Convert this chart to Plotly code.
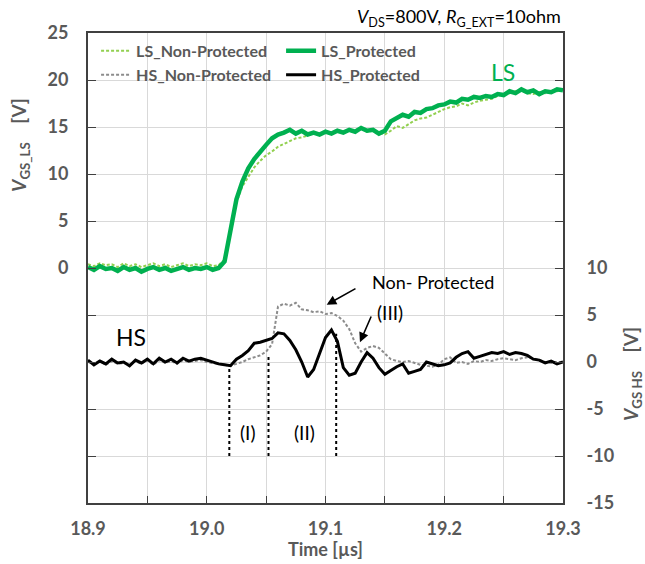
import plotly.graph_objects as go

# ---- data ----
time_us = [18.900, 18.905, 18.910, 18.915, 18.920, 18.925, 18.930, 18.935, 18.940, 18.945,
           18.950, 18.955, 18.960, 18.965, 18.970, 18.975, 18.980, 18.985, 18.990, 18.995,
           19.000, 19.005, 19.010, 19.015, 19.020, 19.025, 19.030, 19.035, 19.040, 19.045,
           19.050, 19.055, 19.060, 19.065, 19.070, 19.075, 19.080, 19.085, 19.090, 19.095,
           19.100, 19.105, 19.110, 19.115, 19.120, 19.125, 19.130, 19.135, 19.140, 19.145,
           19.150, 19.155, 19.160, 19.165, 19.170, 19.175, 19.180, 19.185, 19.190, 19.195,
           19.200, 19.205, 19.210, 19.215, 19.220, 19.225, 19.230, 19.235, 19.240, 19.245,
           19.250, 19.255, 19.260, 19.265, 19.270, 19.275, 19.280, 19.285, 19.290, 19.295,
           19.300]

ls_protected = [0.1, -0.2, 0.2, -0.1, 0.0, -0.3, 0.1, -0.2, 0.0, -0.4,
                -0.1, 0.1, -0.2, 0.0, -0.3, -0.1, 0.1, -0.2, 0.0, -0.1,
                0.1, -0.2, 0.0, 0.7, 4.0, 7.3, 9.2, 10.6, 11.6, 12.4,
                13.1, 13.8, 14.2, 14.4, 14.7, 14.3, 14.6, 14.2, 14.4, 14.2,
                14.5, 14.3, 14.6, 14.4, 14.7, 14.5, 14.9, 14.6, 14.7, 14.3,
                14.6, 15.6, 16.0, 16.3, 16.1, 16.6, 16.5, 16.9, 17.0, 17.3,
                17.4, 17.7, 17.6, 18.0, 17.9, 18.2, 18.1, 18.3, 18.2, 18.5,
                18.4, 18.8, 18.6, 19.0, 18.7, 18.9, 18.5, 18.8, 18.7, 19.0,
                18.9]

ls_non_protected = [0.4, 0.2, 0.5, 0.3, 0.4, 0.1, 0.5, 0.2, 0.4, 0.1,
                    0.3, 0.5, 0.2, 0.4, 0.1, 0.3, 0.5, 0.2, 0.4, 0.3,
                    0.5, 0.2, 0.3, 0.9, 4.2, 7.0, 8.7, 9.7, 10.7, 11.4,
                    12.0, 12.4, 12.9, 13.2, 13.5, 13.8, 13.9, 14.1, 14.3, 14.2,
                    14.4, 14.3, 14.6, 14.4, 14.6, 14.7, 14.8, 14.5, 14.6, 14.4,
                    14.2, 14.6, 15.1, 14.9, 15.3, 15.7, 15.9, 16.0, 16.3, 16.6,
                    16.9, 17.1, 17.2, 17.5, 17.3, 17.6, 17.8, 17.9, 18.0, 18.3,
                    18.5, 18.6, 18.8, 18.9, 18.6, 18.5, 18.7, 18.6, 18.9, 18.8,
                    19.0]

hs_protected = [0.2, -0.3, 0.1, -0.2, 0.3, -0.1, 0.0, -0.4, 0.2, -0.1,
                0.3, -0.2, 0.4, 0.0, 0.3, -0.1, 0.4, 0.1, 0.3, 0.4,
                0.2, 0.0, -0.2, -0.3, -0.4, 0.3, 0.7, 1.2, 2.0, 2.1,
                2.3, 2.5, 3.1, 3.0, 2.3, 1.3, 0.0, -1.6, -0.8, 1.0,
                2.6, 3.4, 2.2, -0.6, -1.4, -1.2, 0.0, 1.0, 0.4, -0.6,
                -1.3, -0.9, -0.5, -0.2, -1.2, -1.0, -0.8, 0.0, -0.2, -0.4,
                -0.3, -0.1, 0.5, 0.9, 1.1, 0.4, 0.6, 0.8, 1.0, 0.9,
                1.1, 0.8, 1.0, 0.9, 0.7, 0.3, 0.2, -0.1, 0.1, -0.2,
                0.0]

hs_non_protected = [0.0, -0.2, 0.1, -0.3, 0.1, -0.2, -0.1, -0.3, 0.1, -0.2,
                    0.2, -0.3, 0.2, -0.1, 0.1, -0.2, 0.2, 0.0, 0.1, 0.2,
                    0.0, -0.1, -0.2, -0.3, -0.4, -0.2, 0.0, 0.3, 0.5, 0.7,
                    1.1, 1.9, 5.9, 6.2, 6.0, 6.3, 5.6, 5.5, 5.3, 5.4,
                    5.1, 5.2, 4.9, 4.4, 3.5, 2.0, 1.1, 1.5, 1.7, 1.5,
                    0.9, 0.3, 0.1, 0.0, 0.1, -0.1, -0.3, -0.4, -0.5, -0.3,
                    0.3, 0.5, -0.1, 0.0, -0.2, 0.1, 0.0, 0.2, 0.1, 0.3,
                    0.4, 0.3, 0.2, 0.4, 0.5, 0.4, 0.2, 0.0, -0.1, 0.0,
                    -0.1]

x_tickvals = [18.9, 18.95, 19.0, 19.05, 19.1, 19.15, 19.2, 19.25, 19.3]
x_ticktext = ["18.9", "", "19.0", "", "19.1", "", "19.2", "", "19.3"]
y1_tickvals = [-25, -20, -15, -10, -5, 0, 5, 10, 15, 20, 25]
y1_ticktext = ["", "", "", "", "", "0", "5", "10", "15", "20", "25"]
y2_tickvals = [-15, -10, -5, 0, 5, 10, 15, 20, 25, 30, 35]
y2_ticktext = ["-15", "-10", "-5", "0", "5", "10", "", "", "", "", ""]

# annotation positions: marker times (µs) for region boundaries
region_marks = [(19.019, -0.3), (19.052, 0.7), (19.109, 3.0)]

FONT = "Lato"
GRAY = "#595959"
AXC = "#404040"

fig = go.Figure()

fig.add_trace(go.Scatter(x=time_us, y=ls_non_protected, name="LS_Non-Protected",
                         mode="lines", line=dict(color="#92D050", width=2, dash="3px,2px"),
                         legend="legend"))
fig.add_trace(go.Scatter(x=time_us, y=ls_protected, name="LS_Protected",
                         mode="lines", line=dict(color="#00B050", width=4.5),
                         legend="legend"))
fig.add_trace(go.Scatter(x=time_us, y=hs_non_protected, name="HS_Non-Protected",
                         mode="lines", line=dict(color="#8C8C8C", width=2, dash="3px,2px"),
                         yaxis="y2", legend="legend2"))
fig.add_trace(go.Scatter(x=time_us, y=hs_protected, name="HS_Protected",
                         mode="lines", line=dict(color="#000000", width=3),
                         yaxis="y2", legend="legend2"))

shapes = []
for t, top in region_marks:
    shapes.append(dict(type="line", xref="x", yref="y2", x0=t, x1=t, y0=-10, y1=top,
                       line=dict(color="#000000", width=2, dash="dot")))

legend_font = dict(family=FONT, size=16, color=GRAY, weight=700)

def ann(**kw):
    d = dict(showarrow=False, xanchor="center", yanchor="middle")
    d.update(kw)
    return d

annotations = [
    ann(text="<i>V</i><sub>DS</sub>=800V, <i>R</i><sub>G_EXT</sub>=10ohm",
        xref="paper", yref="paper", x=1.0, y=1.032, xanchor="right",
        font=dict(family=FONT, size=18, color="#000000")),
    ann(text="<i>V</i><sub>GS_LS</sub>    [V]", xref="paper", yref="paper",
        x=-0.143, y=0.762, textangle=-90,
        font=dict(family=FONT, size=19, color=GRAY, weight=700)),
    ann(text="<i>V</i><sub>GS HS</sub>    [V]", xref="paper", yref="paper",
        x=1.145, y=0.274, textangle=-90,
        font=dict(family=FONT, size=19, color=GRAY, weight=700)),
    ann(text="Time [µs]", xref="paper", yref="paper", x=0.5, y=-0.098,
        font=dict(family=FONT, size=18, color=GRAY, weight=700)),
    ann(text="LS", xref="x", yref="y", x=19.2495, y=20.8,
        font=dict(family=FONT, size=23, color="#00B050")),
    ann(text="HS", xref="x", yref="y2", x=18.936, y=2.7,
        font=dict(family=FONT, size=23, color="#000000")),
    ann(text="Non- Protected", xref="x", yref="y2", x=19.1905, y=8.5,
        font=dict(family=FONT, size=18, color="#000000")),
    dict(text="", xref="x", yref="y2", x=19.101, y=6.1, axref="x", ayref="y2",
         ax=19.1265, ay=7.9, showarrow=True, arrowhead=2, arrowsize=1.2, arrowwidth=1.6,
         arrowcolor="#000000"),
    ann(text="(III)", xref="x", yref="y2", x=19.154, y=5.3,
        font=dict(family=FONT, size=19, color="#000000")),
    dict(text="", xref="x", yref="y2", x=19.129, y=2.1, axref="x", ayref="y2",
         ax=19.139, ay=5.0, showarrow=True, arrowhead=2, arrowsize=1.2, arrowwidth=1.6,
         arrowcolor="#000000"),
    ann(text="(I)", xref="x", yref="y2", x=19.0347, y=-7.55,
        font=dict(family=FONT, size=19, color="#000000")),
    ann(text="(II)", xref="x", yref="y2", x=19.082, y=-7.55,
        font=dict(family=FONT, size=19, color="#000000")),
]

tick_font = dict(family=FONT, size=18, color=GRAY, weight=700)

fig.update_layout(
    width=645, height=564,
    margin=dict(l=88, r=82, t=33, b=61),
    plot_bgcolor="white", paper_bgcolor="white",
    xaxis=dict(range=[18.9, 19.3], tickvals=x_tickvals, ticktext=x_ticktext,
               ticks="inside", ticklen=7, tickcolor=AXC, tickwidth=1,
               showgrid=True, gridcolor="#D9D9D9", gridwidth=1,
               showline=True, linecolor=AXC, linewidth=2, mirror=True,
               tickfont=tick_font, ticklabelstandoff=8, zeroline=False),
    yaxis=dict(range=[-25, 25], tickvals=y1_tickvals, ticktext=y1_ticktext,
               ticks="inside", ticklen=8, tickcolor=AXC, tickwidth=1,
               showgrid=True, gridcolor="#D9D9D9", gridwidth=1,
               showline=True, linecolor=AXC, linewidth=2, mirror=True,
               tickfont=tick_font, ticklabelstandoff=14, zeroline=False),
    yaxis2=dict(range=[-15, 35], tickvals=y2_tickvals, ticktext=y2_ticktext,
                overlaying="y", side="right",
                ticks="inside", ticklen=8, tickcolor=AXC, tickwidth=1,
                showgrid=False, showline=True, linecolor=AXC, linewidth=2,
                tickfont=tick_font, ticklabelstandoff=18, zeroline=False),
    legend=dict(orientation="h", x=0.017, y=0.962, xanchor="left", yanchor="middle",
                entrywidth=140, entrywidthmode="pixels", bgcolor="rgba(0,0,0,0)",
                font=legend_font, traceorder="normal"),
    legend2=dict(orientation="h", x=0.017, y=0.911, xanchor="left", yanchor="middle",
                 entrywidth=140, entrywidthmode="pixels", bgcolor="rgba(0,0,0,0)",
                 font=legend_font, traceorder="normal"),
    shapes=shapes,
    annotations=annotations,
)

fig.write_html("out.html")
